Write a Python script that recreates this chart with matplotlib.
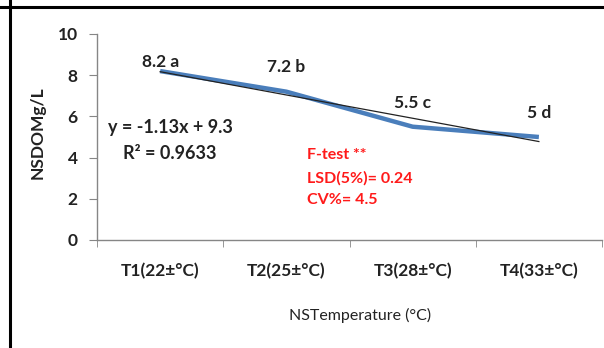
import matplotlib
matplotlib.use("Agg")
import matplotlib.pyplot as plt
from matplotlib.lines import Line2D
import numpy as np

plt.rcParams['font.family'] = ['Lato', 'DejaVu Sans']

categories = ["T1(22±°C)", "T2(25±°C)", "T3(28±°C)", "T4(33±°C)"]
nsdom = [8.2, 7.2, 5.5, 5.0]
letters = ["a", "b", "c", "d"]
trend_slope = -1.13
trend_intercept = 9.3
r_squared = 0.9633
stats_lines = ["F-test **", "LSD(5%)= 0.24", "CV%= 4.5"]
y_ticks = [0, 2, 4, 6, 8, 10]

W, H = 604, 348
fig = plt.figure(figsize=(W / 100, H / 100), dpi=100)
ax = fig.add_axes([97 / W, 1 - 240 / H, 505 / W, 206 / H])

x = np.arange(len(categories))
ax.plot(x, nsdom, color="#4a7ebb", lw=3.2, solid_capstyle="butt", zorder=3)

# linear trendline (Excel-style, x = 1..n)
trend = trend_slope * (x + 1) + trend_intercept
ax.plot(x, trend, color="#222222", lw=0.9, zorder=4)

label_offsets = [9, 25, 24, 24]
for xi, v, let, off in zip(x, nsdom, letters, label_offsets):
    ax.annotate(f"{v:g} {let}", (xi, v), xytext=(0, off), textcoords="offset pixels",
                ha="center", va="center", fontsize=12.5, fontweight="bold", color="#222222")

ax.text(0.145, 0.544, f"y = {trend_slope}x + {trend_intercept}", transform=ax.transAxes,
        ha="center", va="center", fontsize=13, fontweight="bold", color="#222222")
ax.text(0.145, 0.422, f"R² = {r_squared}", transform=ax.transAxes,
        ha="center", va="center", fontsize=13, fontweight="bold", color="#222222")

for yf, s in zip([0.413, 0.301, 0.194], stats_lines):
    ax.text(0.416, yf, s, transform=ax.transAxes, ha="left", va="center",
            fontsize=11.5, fontweight="bold", color="#ff1a1a")

ax.set_xlim(-0.5, len(categories) - 0.5)
ax.set_ylim(0, 10)
ax.set_yticks(y_ticks)
ax.set_yticklabels([str(t) for t in y_ticks], fontsize=12.5, fontweight="bold")
ax.set_xticks(x)
ax.set_xticklabels(categories, fontsize=12.5, fontweight="bold")
ax.set_xticks(np.arange(-0.5, len(categories), 1.0), minor=True)
ax.tick_params(axis="x", which="major", length=0, pad=16.5, colors="#222222")
ax.tick_params(axis="x", which="minor", length=5, color="#868686", direction="out")
ax.tick_params(axis="y", length=6, color="#868686", pad=8, colors="#222222")
for t in ax.yaxis.get_ticklines():
    t.set_color("#868686")

for s in ["top", "right"]:
    ax.spines[s].set_visible(False)
for s in ["left", "bottom"]:
    ax.spines[s].set_color("#868686")
    ax.spines[s].set_linewidth(1.0)

ax.set_ylabel("NSDOMg/L", fontsize=12.5, fontweight="bold", color="#222222")
ax.yaxis.set_label_coords(-(97 - 46) / 505, 0.519)
ax.set_xlabel("NSTemperature (°C)", fontsize=11.5, color="#222222")
ax.xaxis.set_label_coords((360 - 97) / 505, -(308 - 240) / 206)

# cell border lines
fig.add_artist(Line2D([0, 1], [1 - 7 / H, 1 - 7 / H], transform=fig.transFigure,
                      color="black", lw=2.2))
fig.add_artist(Line2D([10 / W, 10 / W], [0, 1], transform=fig.transFigure,
                      color="black", lw=2.2))

fig.savefig("out.png", dpi=100)
